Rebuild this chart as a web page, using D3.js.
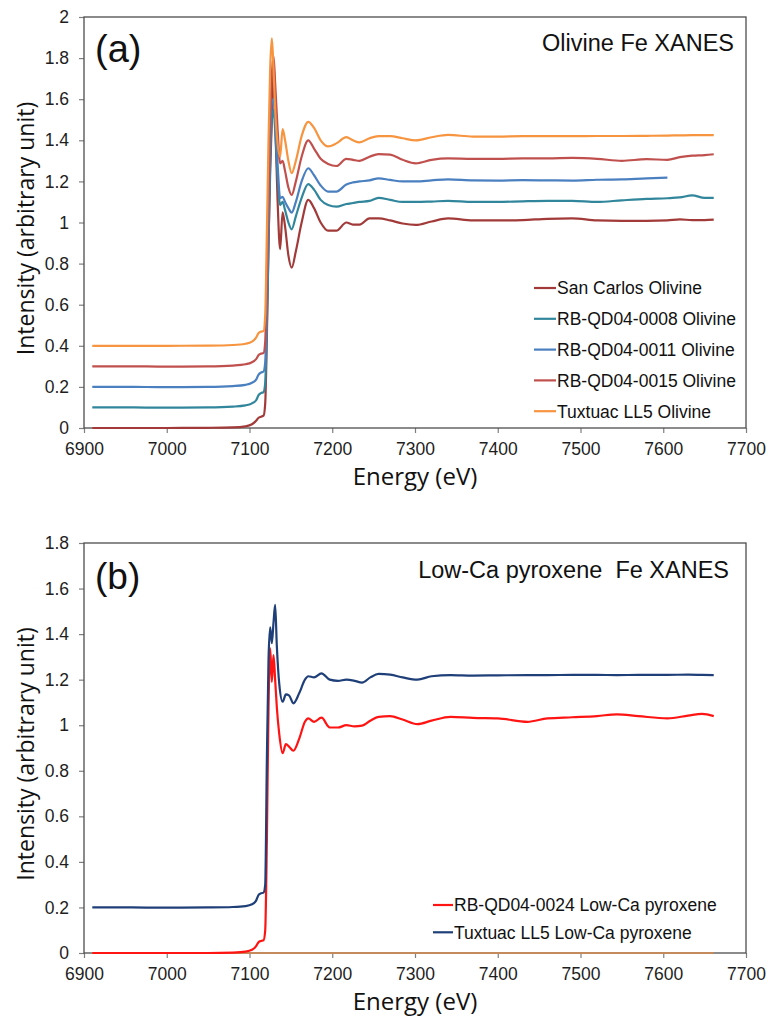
<!DOCTYPE html>
<html>
<head>
<meta charset="utf-8">
<script src="https://cdn.jsdelivr.net/npm/d3@7"></script>
<style>
  body { margin: 0; background: #fff; }
  svg { display: block; }
</style>
</head>
<body>
<svg id="chart"></svg>
<script>
// ---- panel (a): olivine Fe XANES ----
const energyA = [6910, 6950, 7000, 7050, 7080, 7095, 7103, 7108, 7111, 7114, 7117, 7119, 7121, 7123, 7125, 7127,
    7129, 7131, 7134, 7137, 7140, 7143, 7147, 7151, 7156, 7163, 7171, 7178, 7186, 7195, 7205, 7217, 7225, 7233,
    7245, 7256, 7270, 7285, 7301, 7320, 7340, 7370, 7400, 7430, 7460, 7490, 7520, 7550, 7580, 7605, 7620, 7635,
    7650, 7661];
const sanCarlos = [0, 0, 0, 0.001, 0.003, 0.008, 0.018, 0.035, 0.05, 0.055, 0.06, 0.12, 0.45, 0.9, 1.25, 1.5,
    1.78, 1.5, 1.1, 0.87, 1.05, 0.98, 0.84, 0.78, 0.86, 1.0, 1.11, 1.07, 1.0, 0.96, 0.96, 1.0, 0.99, 0.99,
    1.02, 1.02, 1.01, 0.995, 0.988, 1.005, 1.02, 1.01, 1.01, 1.012, 1.018, 1.02, 1.01, 1.008, 1.008, 1.01, 1.015, 1.012,
    1.012, 1.014];
const rb0008 = [0.1, 0.1, 0.099, 0.1, 0.104, 0.11, 0.12, 0.135, 0.16, 0.17, 0.175, 0.22, 0.5, 0.9, 1.3, 1.5,
    1.55, 1.45, 1.22, 1.085, 1.1, 1.06, 1.0, 0.967, 1.03, 1.12, 1.187, 1.16, 1.11, 1.085, 1.077, 1.09, 1.095, 1.1,
    1.105, 1.12, 1.11, 1.1, 1.1, 1.102, 1.105, 1.1, 1.1, 1.103, 1.105, 1.105, 1.1, 1.108, 1.115, 1.118, 1.122, 1.132,
    1.12, 1.12];
const rb0011 = [0.2, 0.2, 0.199, 0.2, 0.204, 0.21, 0.22, 0.235, 0.26, 0.27, 0.275, 0.32, 0.6, 1.0, 1.4, 1.58,
    1.6, 1.5, 1.28, 1.118, 1.125, 1.1, 1.07, 1.048, 1.1, 1.2, 1.264, 1.23, 1.18, 1.15, 1.15, 1.185, 1.195, 1.2,
    1.205, 1.215, 1.207, 1.2, 1.2, 1.205, 1.21, 1.205, 1.204, 1.206, 1.205, 1.204, 1.208, 1.21, 1.215, 1.218, null, null,
    null, null];
const rb0015 = [0.3, 0.3, 0.299, 0.3, 0.304, 0.31, 0.32, 0.335, 0.355, 0.362, 0.365, 0.42, 0.75, 1.15, 1.5, 1.72,
    1.81, 1.68, 1.45, 1.288, 1.3, 1.25, 1.17, 1.134, 1.2, 1.32, 1.4, 1.36, 1.31, 1.285, 1.275, 1.31, 1.305, 1.3,
    1.32, 1.333, 1.33, 1.305, 1.288, 1.305, 1.312, 1.31, 1.31, 1.312, 1.312, 1.314, 1.31, 1.3, 1.308, 1.305, 1.318, 1.325,
    1.328, 1.332];
const tuxtuacOl = [0.4, 0.4, 0.4, 0.401, 0.404, 0.41, 0.42, 0.44, 0.462, 0.469, 0.472, 0.55, 0.95, 1.4, 1.75, 1.896,
    1.75, 1.55, 1.38, 1.32, 1.455, 1.4, 1.3, 1.24, 1.3, 1.42, 1.49, 1.46, 1.4, 1.37, 1.385, 1.415, 1.4, 1.39,
    1.41, 1.42, 1.42, 1.41, 1.4, 1.415, 1.426, 1.418, 1.418, 1.42, 1.42, 1.42, 1.421, 1.421, 1.422, 1.423, 1.424, 1.425,
    1.425, 1.425];
const namesA = ['San Carlos Olivine', 'RB-QD04-0008 Olivine', 'RB-QD04-0011 Olivine', 'RB-QD04-0015 Olivine', 'Tuxtuac LL5 Olivine'];
const colorsA = ['#a13a38', '#31869c', '#4a7fc0', '#c0504d', '#f7943f'];
const yTicksA = [0, 0.2, 0.4, 0.6, 0.8, 1, 1.2, 1.4, 1.6, 1.8, 2];

// ---- panel (b): low-Ca pyroxene Fe XANES ----
const energyB = [6910, 6950, 7000, 7050, 7080, 7095, 7103, 7108, 7111, 7114, 7117, 7119, 7121, 7123, 7125, 7127,
    7129, 7131, 7133, 7136, 7140, 7144, 7148, 7153, 7160, 7167, 7171, 7178, 7187, 7197, 7207, 7217, 7227, 7236,
    7246, 7256, 7270, 7285, 7303, 7320, 7343, 7370, 7400, 7436, 7460, 7490, 7520, 7544, 7570, 7605, 7630, 7647, 7661];
const rb0024 = [0, 0, 0, 0, 0.002, 0.006, 0.014, 0.03, 0.048, 0.053, 0.056, 0.1, 0.5, 1.08, 1.337, 1.19,
    1.308, 1.2, 1.08, 0.96, 0.877, 0.917, 0.905, 0.888, 0.94, 1.015, 1.03, 1.015, 1.033, 0.99, 0.99, 1.0, 0.995, 0.998,
    1.02, 1.037, 1.04, 1.025, 1.005, 1.02, 1.037, 1.032, 1.03, 1.015, 1.03, 1.035, 1.04, 1.048, 1.04, 1.03, 1.042, 1.05, 1.04];
const tuxtuacPx = [0.2, 0.2, 0.199, 0.2, 0.202, 0.206, 0.214, 0.23, 0.255, 0.262, 0.265, 0.3, 0.85, 1.29, 1.43, 1.36,
    1.45, 1.528, 1.35, 1.18, 1.103, 1.135, 1.13, 1.096, 1.14, 1.2, 1.215, 1.21, 1.228, 1.2, 1.195, 1.2, 1.195, 1.187,
    1.21, 1.225, 1.222, 1.21, 1.2, 1.215, 1.22, 1.218, 1.219, 1.22, 1.22, 1.221, 1.221, 1.22, 1.221, 1.221, 1.222, 1.221, 1.22];
const baselineE = [6910, 7661];
const baselineV = [0, 0];
const namesB = ['RB-QD04-0024 Low-Ca pyroxene', 'Tuxtuac LL5 Low-Ca pyroxene'];
const colorsB = ['#ff1414', '#1f3f78'];
const baselineColor = '#c48a5c';
const yTicksB = [0, 0.2, 0.4, 0.6, 0.8, 1, 1.2, 1.4, 1.6, 1.8];

const xTicks = [6900, 7000, 7100, 7200, 7300, 7400, 7500, 7600, 7700];

const width = 768;
const height = 1021;
const svg = d3.select('#chart')
    .attr('width', width)
    .attr('height', height)
    .attr('viewBox', [0, 0, width, height]);

const tickFont = '"Liberation Sans", Arial, sans-serif';
const titleFont = '"Open Sans", "Noto Sans", sans-serif';

function toPoints(xs, ys) {
    return xs.map((x, i) => ({ x: x, y: ys[i] }));
}

function drawPanel(opt) {
    const x = d3.scaleLinear().domain([6900, 7700]).range([opt.left, opt.right]);
    const y = d3.scaleLinear().domain([0, opt.yMax]).range([opt.bottom, opt.top]);

    const g = svg.append('g');

    // axes
    const xAxis = g.append('g')
        .attr('transform', `translate(0,${opt.bottom})`)
        .call(d3.axisBottom(x).tickValues(xTicks).tickSize(5).tickSizeOuter(0).tickPadding(10).tickFormat(d3.format('d')));
    const yAxis = g.append('g')
        .attr('transform', `translate(${opt.left},0)`)
        .call(d3.axisLeft(y).tickValues(opt.yTicks).tickSize(5).tickSizeOuter(0).tickPadding(10)
            .tickFormat(d => String(+d.toFixed(1))));

    [xAxis, yAxis].forEach(a => {
        a.select('.domain').remove();
        a.selectAll('line').attr('stroke', '#7f7f7f').attr('stroke-width', 1.2);
        a.selectAll('text')
            .attr('fill', '#1e1e1e')
            .style('font-family', tickFont)
            .style('font-size', '17.5px');
    });

    // plot frame
    g.append('rect')
        .attr('x', opt.left)
        .attr('y', opt.top)
        .attr('width', opt.right - opt.left)
        .attr('height', opt.bottom - opt.top)
        .attr('fill', 'none')
        .attr('stroke', '#4d4d4d')
        .attr('stroke-width', 1.3);

    const line = d3.line()
        .defined(d => d.y !== null)
        .x(d => x(d.x))
        .y(d => y(d.y))
        .curve(d3.curveMonotoneX);

    opt.series.forEach(s => {
        g.append('path')
            .datum(toPoints(s.x, s.y))
            .attr('fill', 'none')
            .attr('stroke', s.color)
            .attr('stroke-width', 2.2)
            .attr('stroke-linejoin', 'round')
            .attr('d', line);
    });

    // panel letter and heading
    g.append('text')
        .attr('x', opt.left + 11)
        .attr('y', opt.letterY)
        .style('font-family', tickFont)
        .style('font-size', opt.letterSize + 'px')
        .attr('fill', '#111')
        .text(opt.letter);

    g.append('text')
        .attr('x', opt.headX)
        .attr('y', opt.headY)
        .attr('text-anchor', 'end')
        .style('font-family', tickFont)
        .style('font-size', '23.5px')
        .style('white-space', 'pre')
        .attr('fill', '#111')
        .text(opt.heading);

    // axis titles
    g.append('text')
        .attr('x', (opt.left + opt.right) / 2)
        .attr('y', opt.bottom + 57)
        .attr('text-anchor', 'middle')
        .style('font-family', titleFont)
        .style('font-size', '24px')
        .attr('fill', '#111')
        .text('Energy (eV)');

    g.append('text')
        .attr('transform', `translate(34,${(opt.top + opt.bottom) / 2 + 6}) rotate(-90)`)
        .attr('text-anchor', 'middle')
        .style('font-family', titleFont)
        .style('font-size', '23px')
        .attr('fill', '#111')
        .text('Intensity (arbitrary unit)');

    // legend
    const legend = g.selectAll('.legend-row')
        .data(opt.legend)
        .join('g')
            .attr('class', 'legend-row')
            .attr('transform', (d, i) => `translate(${opt.legendX},${opt.legendY + i * opt.legendStep})`);

    legend.append('line')
        .attr('x1', 0)
        .attr('x2', opt.legendLine)
        .attr('stroke', d => d.color)
        .attr('stroke-width', 2.2);

    legend.append('text')
        .attr('x', opt.legendLine + 1)
        .attr('dy', '0.36em')
        .style('font-family', tickFont)
        .style('font-size', '17.5px')
        .attr('fill', '#111')
        .text(d => d.name);
}

const seriesA = [sanCarlos, rb0008, rb0011, rb0015, tuxtuacOl].map((v, i) => ({ x: energyA, y: v, color: colorsA[i] }));

drawPanel({
    left: 84, right: 746, top: 17, bottom: 428, yMax: 2, yTicks: yTicksA,
    series: seriesA,
    letter: '(a)', letterY: 62, letterSize: 38,
    heading: 'Olivine Fe XANES', headX: 734, headY: 51,
    legend: namesA.map((n, i) => ({ name: n, color: colorsA[i] })),
    legendX: 534, legendY: 288, legendStep: 30.8, legendLine: 22
});

const seriesB = [
    { x: baselineE, y: baselineV, color: baselineColor },
    { x: energyB, y: rb0024, color: colorsB[0] },
    { x: energyB, y: tuxtuacPx, color: colorsB[1] }
];

drawPanel({
    left: 84, right: 746, top: 543, bottom: 953, yMax: 1.8, yTicks: yTicksB,
    series: seriesB,
    letter: '(b)', letterY: 589, letterSize: 37,
    heading: 'Low-Ca pyroxene  Fe XANES', headX: 729, headY: 578,
    legend: namesB.map((n, i) => ({ name: n, color: colorsB[i] })),
    legendX: 433, legendY: 905, legendStep: 27.3, legendLine: 20
});
</script>
</body>
</html>
